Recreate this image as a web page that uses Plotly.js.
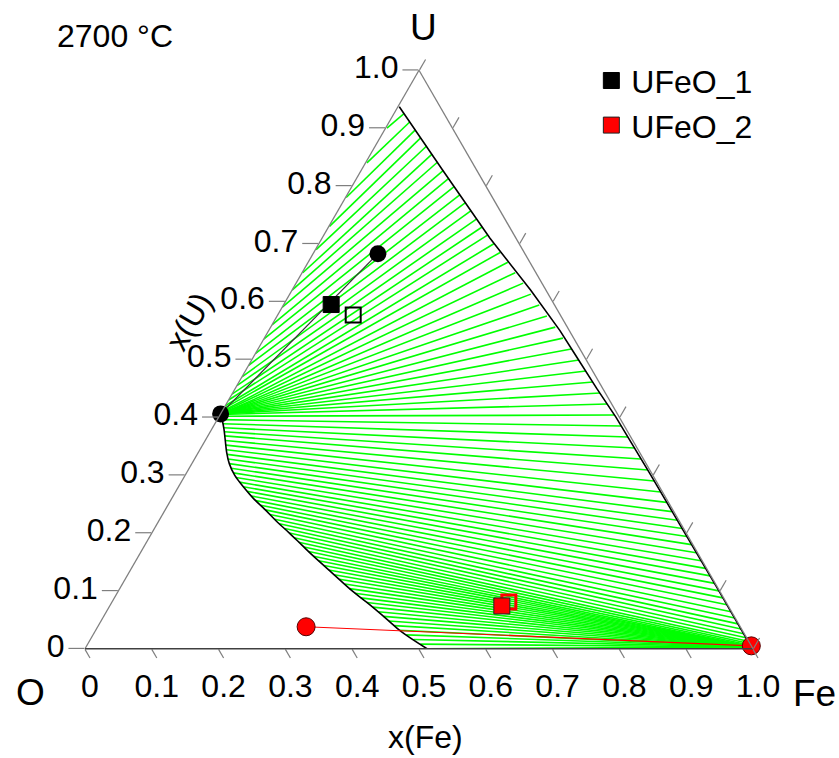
<!DOCTYPE html>
<html><head><meta charset="utf-8">
<script src="https://cdn.plot.ly/plotly-3.0.1.min.js"></script>
<style>html,body{margin:0;padding:0;background:#fff;}#chart{width:839px;height:758px;}</style>
</head><body><div id="chart"></div>
<script>
// ---- tick labels ----
const uTickVals = [0,0.1,0.2,0.3,0.4,0.5,0.6,0.7,0.8,0.9,1.0];
const uTickText = ['0','0.1','0.2','0.3','0.4','0.5','0.6','0.7','0.8','0.9','1.0'];
const oTickVals = [1.0,0.9,0.8,0.7,0.6,0.5,0.4,0.3,0.2,0.1,0];
const feTickText = ['0','0.1','0.2','0.3','0.4','0.5','0.6','0.7','0.8','0.9','1.0'];

// ---- phase boundaries (x(U), x(Fe)) ----
const rightBoundU  = [0.937,0.828,0.710,0.620,0.550,0.510,0.450,0.400,0.300,0.200,0.100,0.050,0.003];
const rightBoundFe = [0.002,0.121,0.251,0.357,0.436,0.478,0.541,0.595,0.697,0.798,0.899,0.949,0.996];
const leftBoundU  = [0.406,0.395,0.380,0.360,0.340,0.320,0.300,0.280,0.260,0.240,0.220,0.200,0.180,0.160,0.130,0.100,0.080,0.050,0.030,0.000];
const leftBoundFe = [0.000,0.008,0.018,0.030,0.042,0.056,0.074,0.097,0.122,0.150,0.177,0.206,0.234,0.262,0.306,0.350,0.382,0.428,0.458,0.512];

// ---- tie lines: left end (U, Fe) and right end (U, Fe) ----
const tieLeftU = [0.90,0.84,0.78,0.73,0.69,0.65,0.62,0.59,0.56,0.535,0.51,0.49,0.47,0.455,0.44,0.43,0.42,0.415,0.41,0.408,0.406,0.406,0.406,0.406,0.406,0.406,0.406,0.406,0.406,0.406,0.406,0.405,
  0.402,0.396,0.389,0.382,0.375,0.368,0.360,0.352,0.344,0.336,0.328,0.320,0.312,0.304,
  0.296,0.288,0.280,0.272,0.264,0.256,0.248,0.240,0.232,0.224,0.216,0.208,0.200,0.192,0.184,0.176,0.168,0.160,0.152,
  0.144,0.136,0.128,0.120,0.112,0.104,0.096,0.088,0.080,0.072,0.064,0.056,0.048,0.040,0.032,0.024,0.016,0.008,0.000];
const tieLeftFe = [0.002,0.002,0.001,0.001,0.001,0.001,0,0,0,0,0,0,0,0,0,0,0,0,0,0,0,0,0,0,0,0,0,0,0,0,0,0.001,
  0.003,0.007,0.012,0.017,0.021,0.025,0.030,0.035,0.040,0.045,0.050,0.056,0.063,0.070,
  0.078,0.087,0.097,0.107,0.117,0.128,0.139,0.150,0.161,0.172,0.183,0.195,0.206,0.217,0.228,0.240,0.251,0.262,0.274,
  0.286,0.297,0.309,0.321,0.333,0.344,0.356,0.369,0.382,0.395,0.407,0.419,0.431,0.443,0.455,0.469,0.484,0.498,0.512];
const tieRightU = [0.925,0.911,0.897,0.883,0.869,0.855,0.841,0.827,0.813,0.799,0.785,0.771,0.757,0.743,0.729,0.715,0.700,0.685,0.668,0.650,0.632,0.613,0.594,0.575,0.556,0.537,0.518,0.499,0.480,0.461,0.442,0.423,
  0.404,0.385,0.366,0.347,0.328,0.309,0.290,0.271,0.253,0.237,0.222,0.208,0.194,0.180,
  0.166,0.152,0.139,0.126,0.113,0.100,0.088,0.076,0.064,0.053,0.043,0.034,0.026,0.019,0.013,0.009,0.006,0.004,0.003,
  0.003,0.003,0.003,0.003,0.003,0.003,0.003,0.003,0.003,0.003,0.003,0.003,0.003,0.003,0.003,0.003,0.003,0.003,0.003];
const tieRightFe = [0.015,0.031,0.046,0.061,0.077,0.092,0.107,0.123,0.138,0.153,0.169,0.184,0.199,0.215,0.230,0.245,0.262,0.279,0.299,0.319,0.340,0.361,0.383,0.404,0.426,0.447,0.469,0.490,0.510,0.530,0.550,0.570,
  0.591,0.610,0.630,0.649,0.668,0.688,0.707,0.726,0.744,0.760,0.776,0.790,0.804,0.818,
  0.832,0.846,0.859,0.873,0.886,0.899,0.911,0.923,0.935,0.946,0.956,0.965,0.973,0.980,0.986,0.990,0.993,0.995,0.996,
  0.996,0.996,0.996,0.996,0.996,0.996,0.996,0.996,0.996,0.996,0.996,0.996,0.996,0.996,0.996,0.996,0.996,0.996,0.996];

// ---- samples ----
const ufeo1PhaseU = [0.406,0.683], ufeo1PhaseFe = [0.000,0.097];
const ufeo1NomU = [0.595], ufeo1NomFe = [0.071];
const ufeo1AltU = [0.577], ufeo1AltFe = [0.113];
const ufeo2PhaseU = [0.038,0.005], ufeo2PhaseFe = [0.312,0.995];
const ufeo2NomU = [0.074], ufeo2NomFe = [0.587];
const ufeo2AltU = [0.081], ufeo2AltFe = [0.594];

const FONT = 'Arial, "Liberation Sans", sans-serif';
function comp(u, fe){ return {a:u, c:fe, b:u.map((v,i)=> v===null ? null : 1 - v - fe[i])}; }

const tA=[], tC=[];
for (let i=0;i<tieLeftU.length;i++){ tA.push(tieLeftU[i], tieRightU[i], null); tC.push(tieLeftFe[i], tieRightFe[i], null); }

const traces = [];
function add(u, fe, opts){ const p = comp(u, fe); traces.push(Object.assign({type:'scatterternary', a:p.a, b:p.b, c:p.c, hoverinfo:'skip', showlegend:false, connectgaps:false, cliponaxis:false}, opts)); }

add(tA, tC, {mode:'lines', line:{color:'#00ff00', width:1.6}});
add(rightBoundU, rightBoundFe, {mode:'lines', line:{color:'#000', width:1.6}});
add(leftBoundU, leftBoundFe, {mode:'lines', line:{color:'#000', width:1.6, shape:'spline'}});
add(ufeo1PhaseU, ufeo1PhaseFe, {mode:'lines+markers', line:{color:'#333', width:1.2}, marker:{symbol:'circle', size:17, color:'#000'}});
add(ufeo1AltU, ufeo1AltFe, {mode:'markers', marker:{symbol:'square-open', size:15, color:'#000', line:{width:2, color:'#000'}}});
add(ufeo1NomU, ufeo1NomFe, {mode:'markers', name:'UFeO_1', showlegend:true, marker:{symbol:'square', size:16, color:'#000', line:{width:1, color:'#000'}}});
add(ufeo2PhaseU, ufeo2PhaseFe, {mode:'lines+markers', line:{color:'#ff0000', width:1.2}, marker:{symbol:'circle', size:18, color:'#ff0000', line:{width:1, color:'#500'}}});
add(ufeo2AltU, ufeo2AltFe, {mode:'markers', marker:{symbol:'square-open', size:14, color:'#ff0000', line:{width:3, color:'#ff0000'}}});
add(ufeo2NomU, ufeo2NomFe, {mode:'markers', name:'UFeO_2', showlegend:true, marker:{symbol:'square', size:16, color:'#ff0000', line:{width:1, color:'#222'}}});

const axisBase = {title:{text:''}, showgrid:false, tickmode:'array', ticks:'outside', ticklen:12, tickwidth:1.2, tickcolor:'#7f7f7f',
  linecolor:'#7f7f7f', linewidth:1.3, tickfont:{family:FONT, size:32, color:'#000'}, min:0};

const layout = {
  width:839, height:758, paper_bgcolor:'#fff', plot_bgcolor:'#fff',
  margin:{l:85, r:86, t:70, b:109},
  showlegend:true,
  legend:{x:0.758, y:1.029, xanchor:'left', yanchor:'top', font:{family:FONT, size:32, color:'#000'}, bgcolor:'rgba(0,0,0,0)'},
  ternary:{
    sum:1, domain:{x:[0,1], y:[0,1]}, bgcolor:'#fff',
    aaxis:Object.assign({}, axisBase, {tickvals:uTickVals, ticktext:uTickText, ticklen:16}),
    baxis:Object.assign({}, axisBase, {tickvals:oTickVals, ticktext:feTickText, linecolor:'#404040', ticklen:10}),
    caxis:Object.assign({}, axisBase, {tickvals:uTickVals, showticklabels:false})
  },
  annotations:[
    {text:'2700 °C', x:0.045, y:1.059, xref:'paper', yref:'paper', xanchor:'center', yanchor:'middle', showarrow:false, font:{family:FONT, size:32, color:'#000'}},
    {text:'U', x:0.506, y:1.074, xref:'paper', yref:'paper', xanchor:'center', yanchor:'middle', showarrow:false, font:{family:FONT, size:37, color:'#000'}},
    {text:'O', x:-0.0823, y:-0.0743, xref:'paper', yref:'paper', xanchor:'center', yanchor:'middle', showarrow:false, font:{family:FONT, size:37, color:'#000'}},
    {text:'Fe', x:1.092, y:-0.076, xref:'paper', yref:'paper', xanchor:'center', yanchor:'middle', showarrow:false, font:{family:FONT, size:37, color:'#000'}},
    {text:'x(Fe)', x:0.509, y:-0.152, xref:'paper', yref:'paper', xanchor:'center', yanchor:'middle', showarrow:false, font:{family:FONT, size:32, color:'#000'}},
    {text:'x(U)', x:0.155, y:0.565, xref:'paper', yref:'paper', xanchor:'center', yanchor:'middle', showarrow:false, textangle:-60, font:{family:FONT, size:32, color:'#000'}}
  ]
};
Plotly.newPlot('chart', traces, layout, {displayModeBar:false, staticPlot:true});
</script></body></html>
